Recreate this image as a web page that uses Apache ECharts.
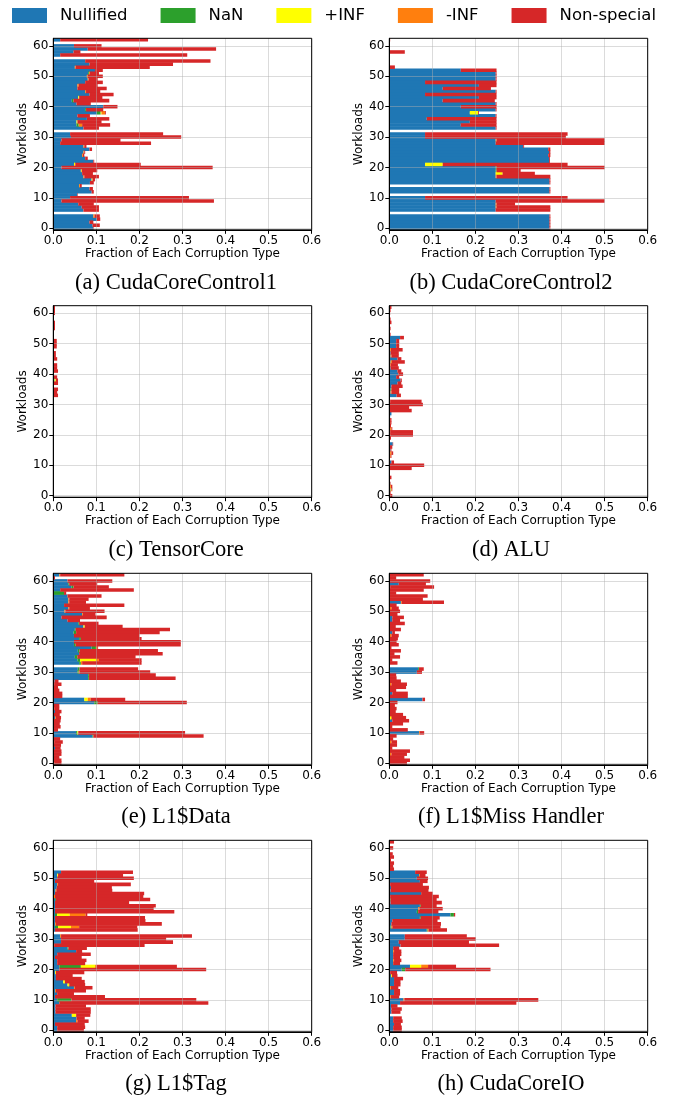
<!DOCTYPE html>
<html>
<head>
<meta charset="utf-8">
<script src="https://cdn.jsdelivr.net/npm/echarts@6/dist/echarts.min.js"></script>
<style>
  html, body { margin: 0; padding: 0; background: #fff; }
  #chart { width: 677px; height: 1102px; }
</style>
</head>
<body>
<div id="chart"></div>
<script>
// categories: workloads, listed top (62) to bottom (0)
const workloads = Array.from({ length: 63 }, (_, i) => String(62 - i))
const yTicks = [0, 10, 20, 30, 40, 50, 60]
const xTicks = ['0.0', '0.1', '0.2', '0.3', '0.4', '0.5', '0.6']
const seriesNames = ['Nullified', 'NaN', '+INF', '-INF', 'Non-special']
const seriesColors = ['#1f77b4', '#2ca02c', '#ffff00', '#ff7f0e', '#d62728']
const captions = ['(a) CudaCoreControl1', '(b) CudaCoreControl2', '(c) TensorCore', '(d) ALU',
  '(e) L1$Data', '(f) L1$Miss Handler', '(g) L1$Tag', '(h) CudaCoreIO']

// Nullified / Non-special: one value per workload, row 62 first
// NaN / +INF / -INF: [workload, value] pairs (others are 0)

// (a) CudaCoreControl1
const aNull = [.016, 0, .048, .080, .047, .016, 0, .074, .084, .050,
  .097, .081, .078, .080, .074, .056, .056, .074, .084, .058,
  .043, .054, .116, .074, .101, .056, .078, .054, .054, .070,
  0, .039, .041, .019, .016, .070, .084, .070, .067, .074,
  .093, .048, .019, .064, .067, .070, .089, .085, .060, .084,
  .089, .056, .039, .019, .058, .066, .070, 0, .093, .101,
  .084, .091, .093]
const aOther = [.204, 0, .064, .298, .016, .295, 0, .291, .194, .172,
  .018, .021, .035, .021, .041, .044, .068, .033, .056, .054,
  .083, .033, .033, .040, .002, .029, .052, .056, .065, .036,
  0, .216, .256, .137, .211, .005, .006, .002, .003, .006,
  .002, .152, .351, .036, .025, .034, .006, .009, .004, .008,
  .005, .001, .276, .354, .036, .040, .036, 0, .012, .008,
  .009, .017, .001]
const aNaN = [[51, .002], [42, .004], [39, .002], [38, .009], [34, .005]]
const aPosInf = [[43, .002], [38, .002], [35, .002], [21, .003], [19, .002], [16, .002]]
const aNegInf = [[53, .002], [51, .002], [50, .002], [49, .002], [47, .003], [45, .002], [38, .008],
  [34, .008], [27, .002], [25, .002], [24, .002], [17, .002], [14, .002], [4, .003]]

// (b) CudaCoreControl2
const bNull = [0, 0, 0, 0, 0, 0, 0, 0, 0, 0,
  .166, .247, .247, .247, .083, .208, .124, .247, .083, .208,
  .124, .247, .166, .247, .187, .247, .087, .187, .166, .247,
  0, .083, .083, .247, .247, .311, .369, .371, .369, .371,
  .371, .083, .247, .247, .247, .247, .372, .372, 0, .372,
  .372, 0, .083, .247, .247, .247, .247, 0, .372, .372,
  .372, .372, .372]
const bOther = [.002, 0, 0, 0, .036, 0, 0, 0, 0, .013,
  .083, .002, .002, .002, .166, .041, .112, .002, .166, .041,
  .121, .002, .083, .002, .002, .002, .162, .062, .083, .002,
  0, .331, .327, .251, .253, .002, .005, .003, .005, .002,
  .002, .290, .251, .056, .075, .125, .002, .002, 0, .002,
  .002, 0, .331, .253, .043, .125, .127, 0, .002, .002,
  .002, .002, .002]
const bNaN = [[20, .002], [19, .002]]
const bPosInf = [[38, .019], [21, .041], [18, .016]]
const bNegInf = [[29, .002], [17, .002], [8, .002], [7, .002]]

// (c) TensorCore
const cNull = [0, 0, 0, 0, 0, 0, 0, 0, 0, 0,
  0, 0, 0, 0, 0, 0, 0, 0, 0, 0,
  0, 0, 0, 0, .003, 0, 0, 0, 0, 0,
  0, 0, 0, 0, 0, 0, 0, 0, 0, 0,
  0, 0, 0, 0, 0, 0, 0, 0, 0, 0,
  0, 0, 0, 0, 0, 0, 0, 0, 0, 0,
  0, 0, 0]
const cOther = [.004, .004, .004, 0, 0, .004, .004, .004, 0, 0,
  0, .008, .008, .008, 0, .006, .006, .009, 0, .009,
  .009, .011, 0, .009, .005, .011, 0, .011, .009, .011,
  0, 0, 0, 0, 0, 0, 0, 0, 0, 0,
  0, 0, 0, 0, 0, 0, 0, 0, 0, 0,
  0, 0, 0, 0, 0, 0, 0, 0, 0, 0,
  0, 0, 0]
const cNaN = []
const cPosInf = [[38, .003]]
const cNegInf = []

// (d) ALU
const dNull = [0, 0, 0, 0, 0, 0, 0, 0, 0, 0,
  .025, .016, .016, .016, .002, .003, .003, .019, .003, 0,
  .003, .019, .021, .016, .026, .019, .005, .003, .003, .017,
  0, 0, 0, 0, 0, .005, .002, 0, 0, 0,
  .002, 0, 0, 0, 0, .008, 0, .003, .002, 0,
  0, .005, 0, 0, 0, 0, 0, 0, .002, 0,
  .003, 0, .002]
const dOther = [.005, .003, .002, 0, .003, .005, 0, .003, 0, .003,
  .009, .007, .007, .007, .027, .019, .017, .009, .030, .017,
  .019, .009, .011, .007, .003, .009, .026, .018, .018, .010,
  0, .073, .078, .046, .052, 0, 0, .003, .003, .004,
  .002, .053, .053, .004, 0, .001, .007, .002, .004, .002,
  0, .006, .081, .052, 0, 0, .005, 0, .001, .003,
  .002, .003, .005]
const dNaN = [[35, .002]]
const dPosInf = [[24, .002], [20, .002], [3, .002], [2, .002]]
const dNegInf = [[48, .002], [46, .002], [44, .003], [43, .003], [34, .002], [31, .002],
  [25, .002], [22, .003], [21, .002], [14, .003], [13, .003], [3, .002]]

// (e) L1$Data
const eNull = [.014, 0, .033, .035, .042, .016, 0, .033, .035, .035,
  .025, .035, .026, .067, .019, .033, .058, .070, .050, .047,
  .048, .060, .048, .048, .089, .057, .060, .050, .056, .060,
  0, .057, .056, .081, .081, .003, .002, 0, 0, 0,
  0, .072, .095, 0, 0, .004, 0, .004, 0, 0,
  0, 0, .053, .091, 0, 0, 0, .004, 0, 0,
  0, 0, 0]
const eOther = [.149, .004, .104, .065, .082, .171, .005, .079, .045, .039,
  .140, .048, .091, .029, .105, .029, .045, .088, .219, .194,
  .152, .141, .248, .244, .002, .182, .194, .135, .099, .138,
  0, .136, .164, .155, .201, .009, .017, .011, .014, .021,
  .021, .080, .207, .014, .012, .015, .015, .012, .017, .015,
  .017, .011, .248, .256, .016, .020, .018, .013, .019, .019,
  .014, .019, .017]
const eNaN = [[59, .002], [58, .005], [56, .025], [46, .002], [44, .002], [43, .006], [41, .004],
  [39, .004], [38, .010], [37, .004], [35, .006], [34, .006], [33, .004], [31, .004], [30, .003],
  [29, .002], [28, .002], [20, .008], [10, .003], [9, .002]]
const ePosInf = [[45, .003], [34, .037], [21, .008], [18, .002], [10, .002]]
const eNegInf = [[62, .002], [54, .002], [53, .002], [51, .002], [50, .002], [49, .002], [38, .003],
  [34, .007], [33, .003], [30, .002], [21, .007], [15, .002], [7, .002], [0, .002]]

// (f) L1$Miss Handler
const fNull = [0, 0, 0, .022, .002, 0, 0, 0, 0, .027,
  0, 0, 0, 0, .007, .007, 0, 0, 0, .007,
  0, 0, 0, 0, 0, 0, 0, 0, 0, 0,
  0, .067, .064, 0, 0, 0, 0, 0, 0, .007,
  0, .077, 0, 0, 0, 0, 0, 0, .007, 0,
  0, 0, .069, 0, 0, 0, 0, 0, 0, 0,
  0, 0, 0]
const fOther = [.080, .016, .095, .063, .102, .080, .016, .089, .078, .098,
  .017, .017, .025, .019, .027, .018, .036, .015, .027, .006,
  .017, .020, .017, .022, .005, .027, .012, .025, .007, .019,
  0, .011, .012, .016, .017, .027, .036, .039, .016, .036,
  .043, .006, .019, .013, .017, .015, .032, .033, .039, .032,
  .007, .043, .010, .017, .009, .013, .018, .007, .048, .036,
  .035, .048, .041]
const fNaN = [[31, .002]]
const fPosInf = [[15, .004]]
const fNegInf = [[53, .002], [51, .005], [42, .005], [26, .005], [15, .002], [10, .002], [7, .005], [3, .005]]

// (g) L1$Tag
const gNull = [0, 0, 0, 0, 0, 0, 0, 0, 0, 0,
  .018, .009, .009, .004, .009, .008, .005, .004, 0, .004,
  .004, .004, .004, .004, .004, .004, .004, .004, .004, .004,
  0, .016, .018, .018, 0, .033, .053, .009, .004, .009,
  .009, .014, .014, .004, .006, .006, .023, .033, .048, .004,
  .009, .004, .009, .014, .005, .005, .005, .043, .054, .053,
  .004, .009, .009]
const gOther = [0, 0, 0, 0, 0, 0, 0, 0, 0, 0,
  .167, .151, .178, .091, .169, .128, .130, .207, .205, .219,
  .172, .234, .229, .277, .004, .209, .210, .246, .135, .192,
  0, .304, .244, .260, .210, .043, .014, .078, .062, .068,
  .065, .186, .341, .066, .039, .060, .046, .037, .041, .070,
  .039, .116, .290, .346, .071, .082, .082, .033, .019, .026,
  .069, .065, .062]
const gNaN = [[43, .002], [38, .005], [34, .007], [27, .002], [21, .050], [10, .033]]
const gPosInf = [[51, .002], [38, .029], [34, .030], [21, .033], [19, .002], [16, .004], [15, .004], [5, .010]]
const gNegInf = [[48, .002], [46, .002], [44, .004], [38, .037], [35, .002], [34, .019], [31, .002],
  [28, .002], [21, .004], [14, .002], [13, .002], [3, .003]]

// (h) CudaCoreIO
const hNull = [0, 0, 0, 0, 0, 0, 0, 0, 0, 0,
  .060, .069, .064, .071, .002, .004, .003, .074, .002, 0,
  .003, .071, .067, .064, .142, .071, .007, .005, .003, .087,
  0, .036, .036, .022, .026, .009, .009, .009, .009, .009,
  .009, .048, .029, .002, .004, .011, .011, .011, .002, .011,
  .011, .002, .033, .025, .004, .005, .005, 0, .009, .009,
  .011, .009, .009]
const hOther = [.011, 0, .009, 0, .008, .011, .004, .011, .009, .011,
  .027, .013, .026, .018, .076, .088, .088, .027, .113, .107,
  .119, .037, .054, .047, .003, .044, .105, .115, .112, .043,
  0, .144, .165, .163, .229, .014, .017, .019, .016, .017,
  .016, .065, .198, .016, .013, .021, .015, .015, .017, .014,
  .014, .019, .311, .270, .015, .024, .021, 0, .020, .022,
  .016, .020, .020]
const hNaN = [[43, .003], [41, .002], [39, .003], [38, .008], [37, .002], [34, .002], [33, .002], [20, .008]]
const hPosInf = [[21, .026], [18, .002]]
const hNegInf = [[51, .002], [40, .003], [34, .002], [33, .002], [26, .002], [23, .002], [21, .016],
  [14, .002], [11, .002], [10, .002]]

const panels = [
  [aNull, aNaN, aPosInf, aNegInf, aOther],
  [bNull, bNaN, bPosInf, bNegInf, bOther],
  [cNull, cNaN, cPosInf, cNegInf, cOther],
  [dNull, dNaN, dPosInf, dNegInf, dOther],
  [eNull, eNaN, ePosInf, eNegInf, eOther],
  [fNull, fNaN, fPosInf, fNegInf, fOther],
  [gNull, gNaN, gPosInf, gNegInf, gOther],
  [hNull, hNaN, hPosInf, hNegInf, hOther]
]

// pairs -> one value per workload (row 62 first)
function fromPairs(pairs) {
  const arr = workloads.map(() => 0)
  pairs.forEach(([row, v]) => { arr[62 - row] = v })
  return arr
}

// layout (pixels)
const colLeft = [53.3, 389.3]
const rowTop = [38.3, 305.7, 573.3, 840.3]
const plotW = 258.4
const plotH = 191.5
const rowPitch = plotH / 63
const captionX = [176, 511]
const captionY = [283, 550, 817, 1084]
const gridColor = 'rgba(176,176,176,0.45)'

const grids = []
const xAxes = []
const yAxes = []
const series = []
const graphics = []

panels.forEach((panel, p) => {
  const left = colLeft[p % 2]
  const top = rowTop[Math.floor(p / 2)]
  // main grid: bars
  grids.push({ left, top, width: plotW, height: plotH, show: true, borderColor: '#000', borderWidth: 1, z: 4 })
  // tick grid: rows 0..60 only, for y ticks/labels/gridlines
  grids.push({ left, top: top + 2.5 * rowPitch, width: plotW, height: 60 * rowPitch })

  xAxes.push({
    gridIndex: 2 * p, type: 'value', min: 0, max: 0.6, interval: 0.1, z: 3,
    axisLine: { show: true, lineStyle: { color: '#000', width: 1 } },
    axisTick: { show: true, length: 4, lineStyle: { color: '#000' } },
    axisLabel: { fontSize: 12, color: '#000', margin: 5, formatter: v => xTicks[Math.round(v * 10)] },
    splitLine: { show: true, lineStyle: { color: gridColor, width: 1 } },
    name: 'Fraction of Each Corruption Type', nameLocation: 'middle', nameGap: 18,
    nameTextStyle: { fontSize: 12, color: '#000' }
  })
  xAxes.push({ gridIndex: 2 * p + 1, type: 'value', min: 0, max: 1, show: false })

  yAxes.push({
    gridIndex: 2 * p, type: 'category', data: workloads, inverse: true, z: 3,
    axisLine: { show: true, lineStyle: { color: '#000', width: 1 } },
    axisTick: { show: false }, axisLabel: { show: false }, splitLine: { show: false },
    name: 'Workloads', nameLocation: 'middle', nameGap: 24,
    nameTextStyle: { fontSize: 12, color: '#000' }
  })
  yAxes.push({
    gridIndex: 2 * p + 1, type: 'value', min: 0, max: 60, interval: 10, z: 3,
    axisLine: { show: false },
    axisTick: { show: true, length: 4, lineStyle: { color: '#000' } },
    axisLabel: { fontSize: 12, color: '#000', margin: 5, formatter: v => String(yTicks[v / 10]) },
    splitLine: { show: true, lineStyle: { color: gridColor, width: 1 } }
  })

  panel.forEach((vals, k) => {
    const data = (k === 0 || k === 4) ? vals : fromPairs(vals)
    series.push({
      name: seriesNames[k], type: 'bar', stack: 'p' + p,
      xAxisIndex: 2 * p, yAxisIndex: 2 * p,
      barWidth: rowPitch + 0.5, itemStyle: { color: seriesColors[k] },
      data
    })
  })

  graphics.push({
    type: 'text', x: captionX[p % 2], y: captionY[Math.floor(p / 2)],
    style: { text: captions[p], font: '22.5px "Liberation Serif"', fill: '#000', align: 'center', verticalAlign: 'middle' }
  })
})

const chart = echarts.init(document.getElementById('chart'))
chart.setOption({
  animation: false,
  textStyle: { fontFamily: 'DejaVu Sans' },
  legend: {
    data: seriesNames, left: 7, top: 2, icon: 'rect',
    itemWidth: 35, itemHeight: 15, itemGap: 33,
    textStyle: { fontSize: 16.5, color: '#000', padding: [0, 0, 0, 8] }
  },
  grid: grids,
  xAxis: xAxes,
  yAxis: yAxes,
  series,
  graphic: graphics
})
</script>
</body>
</html>
